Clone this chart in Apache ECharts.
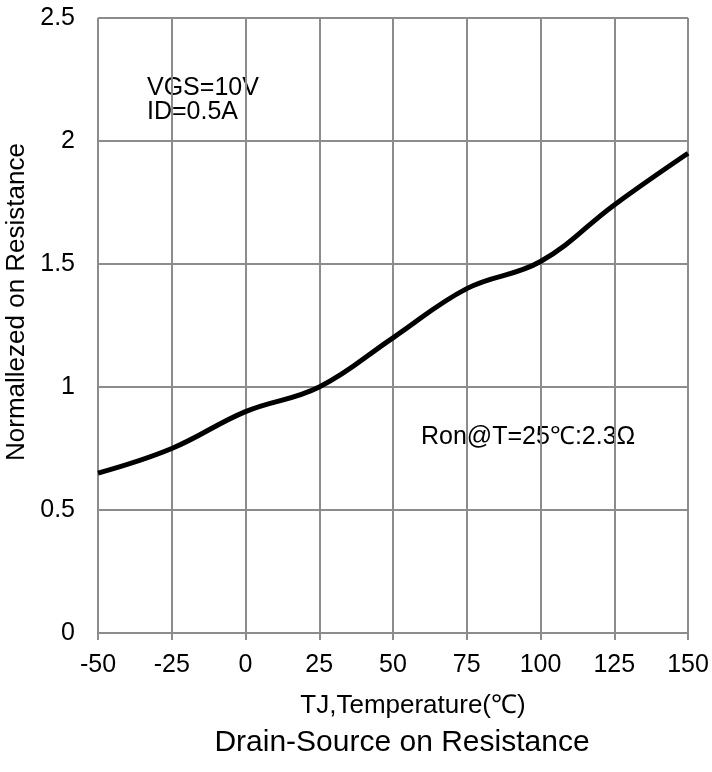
<!DOCTYPE html>
<html>
<head>
<meta charset="utf-8">
<script src="https://cdn.jsdelivr.net/npm/echarts@6/dist/echarts.min.js"></script>
<style>
  html, body { margin: 0; padding: 0; background: #fff; }
  #chart { width: 712px; height: 772px; }
</style>
</head>
<body>
<div id="chart"></div>
<script>
// Junction temperature (°C) and normalized on-resistance
const temperatures = [-50, -25, 0, 25, 50, 75, 100, 125, 150];
const normalizedRon = [0.65, 0.75, 0.90, 1.00, 1.20, 1.40, 1.51, 1.74, 1.95];
const xTicks = { min: -50, max: 150, step: 25 };
const yTicks = { min: 0, max: 2.5, step: 0.5 };

const FONT = '"Liberation Sans", Arial, sans-serif';
const GRID_COLOR = '#8c8c8c';

const chart = echarts.init(document.getElementById('chart'), null, { renderer: 'canvas' });

function label(text, x, y, size, extra) {
  return Object.assign({
    type: 'text', x: x, y: y,
    style: { text: text, fill: '#000', font: size + 'px ' + FONT, textVerticalAlign: 'middle' }
  }, extra || {});
}

chart.setOption({
  backgroundColor: '#ffffff',
  animation: false,
  grid: { left: 98, right: 24, top: 18, bottom: 139 },
  xAxis: {
    type: 'value',
    min: xTicks.min,
    max: xTicks.max,
    interval: xTicks.step,
    axisLine: { show: true, lineStyle: { color: GRID_COLOR, width: 2 } },
    axisTick: { show: true, length: 7, lineStyle: { color: GRID_COLOR, width: 2 } },
    axisLabel: { color: '#000', fontFamily: FONT, fontSize: 25, margin: 20 },
    splitLine: { show: true, lineStyle: { color: GRID_COLOR, width: 2 } }
  },
  yAxis: {
    type: 'value',
    min: yTicks.min,
    max: yTicks.max,
    interval: yTicks.step,
    axisLine: { show: true, lineStyle: { color: GRID_COLOR, width: 2 } },
    axisTick: { show: true, length: 7, lineStyle: { color: GRID_COLOR, width: 2 } },
    axisLabel: { color: '#000', fontFamily: FONT, fontSize: 25, margin: 23 },
    splitLine: { show: true, lineStyle: { color: GRID_COLOR, width: 2 } }
  },
  series: [{
    type: 'line',
    data: temperatures.map((t, i) => [t, normalizedRon[i]]),
    smooth: 0.4,
    showSymbol: false,
    lineStyle: { color: '#000', width: 5 },
    z: 5
  }],
  graphic: [
    label('VGS=10V', 147, 88, 25),
    label('ID=0.5A', 147, 112, 25),
    label('Ron@T=25℃:2.3Ω', 421, 437, 25),
    label('TJ,Temperature(℃)', 413, 706, 26, { style: { text: 'TJ,Temperature(℃)', fill: '#000', font: '26px ' + FONT, textAlign: 'center', textVerticalAlign: 'middle' } }),
    label('Drain-Source on Resistance', 402, 743, 30, { style: { text: 'Drain-Source on Resistance', fill: '#000', font: '30px ' + FONT, textAlign: 'center', textVerticalAlign: 'middle' } }),
    {
      type: 'text', x: 17, y: 302, rotation: Math.PI / 2,
      style: { text: 'Normallezed on Resistance', fill: '#000', font: '26px ' + FONT, textAlign: 'center', textVerticalAlign: 'middle' }
    }
  ]
});
</script>
</body>
</html>
